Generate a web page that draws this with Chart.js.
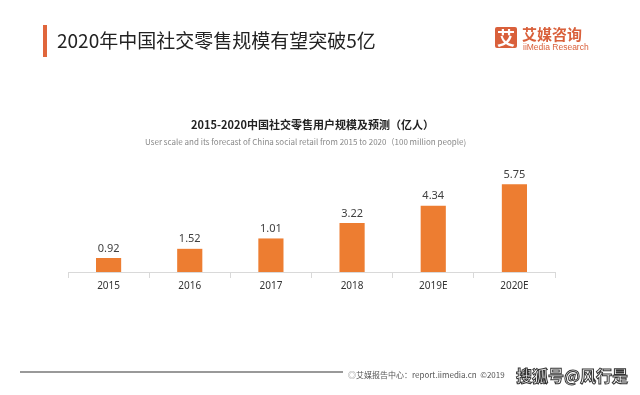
<!DOCTYPE html>
<html>
<head>
<meta charset="utf-8">
<script src="https://cdn.jsdelivr.net/npm/chart.js@4.4.1/dist/chart.umd.min.js"></script>
<style>
  body { margin: 0; background: #fff; }
  #wrap { position: relative; width: 640px; height: 395px; overflow: hidden; font-family: "Noto Sans CJK SC", "Noto Sans", sans-serif; }
  #wrap canvas { position: absolute; left: 0; top: 0; }
  .txt { position: absolute; white-space: nowrap; line-height: 1; }
</style>
</head>
<body>
<div id="wrap">
  <canvas id="graphique" width="640" height="395"></canvas>

  <div style="position:absolute;left:43px;top:25px;width:4px;height:32px;background:#e0663c;"></div>
  <div class="txt" style="left:57px;top:30px;font-size:19px;color:#222;">2020年中国社交零售规模有望突破5亿</div>

  <div style="position:absolute;left:495px;top:27px;width:22px;height:21px;background:#d9603b;border-radius:2px;"></div>
  <div class="txt" style="left:497px;top:28px;font-size:18px;font-weight:bold;color:#fff;">艾</div>
  <div class="txt" style="left:522px;top:26px;font-size:15px;font-weight:bold;color:#d9603b;">艾媒咨询</div>
  <div class="txt" style="left:523px;top:43px;font-size:8.5px;color:#d9603b;font-family:'Liberation Sans', sans-serif;">iiMedia Research</div>

  <div class="txt" style="left:191px;top:119px;font-size:11px;font-weight:bold;color:#222;">2015-2020中国社交零售用户规模及预测（亿人）</div>
  <div class="txt" style="left:145px;top:138px;font-size:8px;color:#888;">User scale and its forecast of China social retail from 2015 to 2020（100 million people)</div>

  <div style="position:absolute;left:20px;top:371px;width:323px;height:2px;background:#999;"></div>
  <div class="txt" style="left:348px;top:371px;font-size:8px;color:#888;">◎</div>
  <div class="txt" style="left:356px;top:371px;font-size:8px;color:#555;">艾媒报告中心：report.iimedia.cn&nbsp;&nbsp;©2019</div>
  <div class="txt" style="left:516px;top:367px;font-size:16px;font-weight:bold;color:#fff;-webkit-text-stroke:1px #333;">搜狐号@风行是</div>
</div>

<script>
// donnees
var annees = ['2015', '2016', '2017', '2018', '2019E', '2020E'];
var etiquettes = ['0.92', '1.52', '1.01', '3.22', '4.34', '5.75'];
// hauteur des barres telle que dessinee (2017 est plus haute que son etiquette)
var hauteurs = [0.92, 1.52, 2.2, 3.22, 4.34, 5.75];

var pluginEtiquettes = {
    id: 'etiquettes',
    afterDatasetsDraw: function (chart) {
        var ctx = chart.ctx;
        var meta = chart.getDatasetMeta(0);
        ctx.save();
        ctx.font = '11px "Noto Sans", sans-serif';
        ctx.fillStyle = '#404040';
        ctx.textAlign = 'center';
        ctx.textBaseline = 'bottom';
        meta.data.forEach(function (barre, i) {
            ctx.fillText(etiquettes[i], barre.x, barre.y - 4);
        });
        ctx.restore();
    }
};

var ctx = document.getElementById('graphique').getContext('2d');

var grafique = new Chart(ctx, {
    type: 'bar',
    data: {
        labels: annees,
        datasets: [
            {
                label: "Utilisateurs",
                backgroundColor: "#ed7d31",
                data: hauteurs,
                categoryPercentage: 1,
                barPercentage: 0.31
            }
        ]
    },
    options: {
        responsive: false,
        animation: false,
        layout: {
            padding: { left: 68, right: 85, top: 150, bottom: 101 }
        },
        plugins: {
            legend: { display: false },
            tooltip: { enabled: false }
        },
        scales: {
            x: {
                border: { color: '#d9d9d9', width: 1 },
                grid: { drawOnChartArea: false, tickLength: 6, color: '#d9d9d9', offset: true },
                ticks: { color: '#333', padding: 2, font: { size: 10, family: '"Noto Sans", sans-serif' } }
            },
            y: {
                display: false,
                min: 0,
                max: 8
            }
        }
    },
    plugins: [pluginEtiquettes]
});
</script>
</body>
</html>
